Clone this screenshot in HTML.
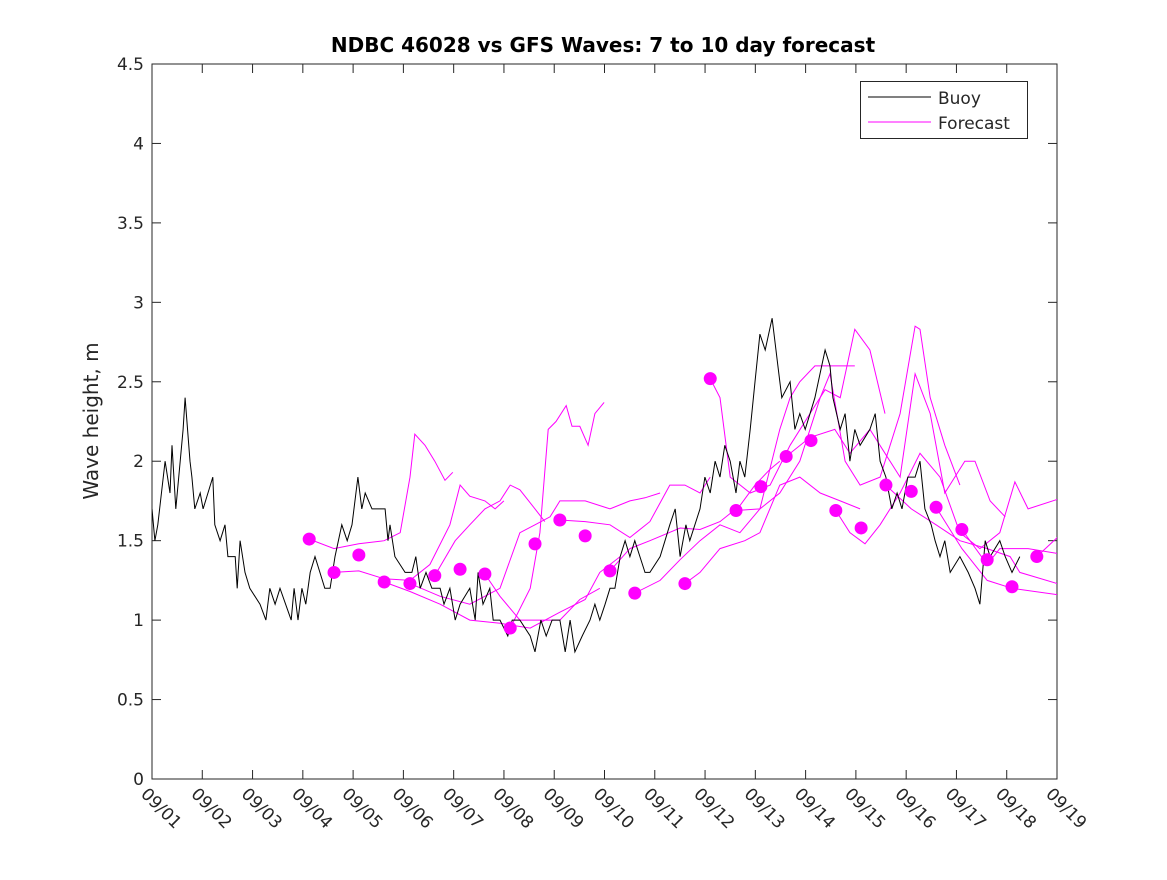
<!DOCTYPE html>
<html><head><meta charset="utf-8"><style>
body{margin:0;background:#fff;font-family:"Liberation Sans","DejaVu Sans",sans-serif}
svg text{font-family:"DejaVu Sans","Liberation Sans",sans-serif}
</style></head><body>
<svg id="c" width="1167" height="875" xmlns="http://www.w3.org/2000/svg">
<rect width="1167" height="875" fill="#fff"/>
<text x="603" y="52" text-anchor="middle" font-size="20" font-weight="bold" fill="#000">NDBC 46028 vs GFS Waves: 7 to 10 day forecast</text>
<text transform="translate(98,421) rotate(-90)" text-anchor="middle" font-size="20" fill="#262626">Wave height, m</text>
<g id="axes"></g><g id="marks"></g>
<g>
<rect x="860.5" y="81.5" width="167" height="57" fill="#fff" stroke="#262626" stroke-width="1"/>
<line x1="868" y1="97" x2="931" y2="97" stroke="#000" stroke-width="1"/>
<text x="938" y="104" font-size="17" fill="#262626">Buoy</text>
<line x1="868" y1="122" x2="931" y2="122" stroke="#f0f" stroke-width="1"/>
<text x="938" y="129" font-size="17" fill="#262626">Forecast</text>
</g>
</svg>
<script>
const yTicks=[0,0.5,1,1.5,2,2.5,3,3.5,4,4.5];
const xTickLabels=["09/01","09/02","09/03","09/04","09/05","09/06","09/07","09/08","09/09","09/10","09/11","09/12","09/13","09/14","09/15","09/16","09/17","09/18","09/19"];
const buoyDay=[0,.06,.12,.27,.37,.41,.49,.58,.64,.68,.78,.82,.88,.99,1.05,1.25,1.29,1.40,1.50,1.56,1.71,1.75,1.81,1.91,2.01,2.22,2.34,2.42,2.53,2.63,2.86,2.92,3.00,3.08,3.16,3.25,3.35,3.45,3.55,3.66,3.76,3.90,4.01,4.11,4.23,4.31,4.38,4.52,4.68,4.79,4.85,4.89,4.99,5.20,5.34,5.42,5.51,5.63,5.75,5.92,6.00,6.12,6.23,6.33,6.53,6.64,6.70,6.80,6.94,7.01,7.15,7.31,7.40,7.56,7.77,7.87,7.99,8.10,8.22,8.38,8.49,8.59,8.69,8.84,9.00,9.10,9.20,9.31,9.41,9.51,9.62,9.72,9.82,9.92,10.13,10.23,10.44,10.54,10.64,10.75,10.85,10.97,11.05,11.26,11.36,11.47,11.57,11.67,11.77,11.88,12.00,12.08,12.18,12.29,12.39,12.49,12.60,12.74,12.86,12.94,13.11,13.21,13.31,13.42,13.62,13.83,13.93,13.99,14.14,14.24,14.34,14.44,14.55,14.75,14.86,14.96,15.08,15.20,15.31,15.41,15.53,15.68,15.78,15.88,16.01,16.09,16.19,16.29,16.40,16.60,16.77,16.91,17.01,17.12,17.22,17.42,17.53,17.67,17.83];
const buoyVal=[1.7,1.5,1.6,2.0,1.8,2.1,1.7,2.0,2.2,2.4,2.0,1.9,1.7,1.8,1.7,1.9,1.6,1.5,1.6,1.4,1.4,1.2,1.5,1.3,1.2,1.1,1.0,1.2,1.1,1.2,1.0,1.2,1.0,1.2,1.1,1.3,1.4,1.3,1.2,1.2,1.4,1.6,1.5,1.6,1.9,1.7,1.8,1.7,1.7,1.7,1.5,1.6,1.4,1.3,1.3,1.4,1.2,1.3,1.2,1.2,1.1,1.2,1.0,1.1,1.2,1.0,1.3,1.1,1.2,1.0,1.0,0.9,1.0,1.0,0.9,0.8,1.0,0.9,1.0,1.0,0.8,1.0,0.8,0.9,1.0,1.1,1.0,1.1,1.2,1.2,1.4,1.5,1.4,1.5,1.3,1.3,1.4,1.5,1.6,1.7,1.4,1.6,1.5,1.7,1.9,1.8,2.0,1.9,2.1,2.0,1.8,2.0,1.9,2.2,2.5,2.8,2.7,2.9,2.6,2.4,2.5,2.2,2.3,2.2,2.4,2.7,2.6,2.4,2.2,2.3,2.0,2.2,2.1,2.2,2.3,2.0,1.9,1.7,1.8,1.7,1.9,1.9,2.0,1.7,1.6,1.5,1.4,1.5,1.3,1.4,1.3,1.2,1.1,1.5,1.4,1.5,1.4,1.3,1.4];
const dotDay=[3.23,3.74,4.25,4.77,5.30,5.81,6.33,6.84,7.36,7.87,8.38,8.90,9.41,9.92,10.95,11.47,12.00,12.51,13.03,13.54,14.05,14.57,15.08,15.60,16.11,16.64,17.16,17.67,18.18];
const dotVal=[1.51,1.30,1.41,1.24,1.23,1.28,1.32,1.29,0.95,1.48,1.63,1.53,1.31,1.17,1.23,2.52,1.69,1.84,2.03,2.13,1.69,1.58,1.85,1.81,1.71,1.57,1.38,1.21,1.40];
const fcDays=[
[3.23,3.74,4.25,4.77,5.10,5.30,5.40,5.61,5.81,6.02,6.18],
[3.74,4.25,4.77,5.30,5.71,6.12,6.33,6.53,6.84,7.05,7.23],
[4.77,5.30,5.92,6.53,7.15,7.77,8.38,8.90,9.20,9.62],
[5.30,5.92,6.53,7.15,7.56,7.87,8.18,8.38,8.90,9.41,9.82,10.13,10.44],
[5.81,6.23,6.53,6.84,7.15,7.36,7.56,7.87,8.07],
[6.84,7.15,7.56,7.97,8.38,8.79,9.20],
[7.36,7.77,7.97,8.14,8.30,8.51,8.63,8.79,8.96,9.10,9.29],
[8.38,8.90,9.41,9.82,10.23,10.64,10.95,11.26,11.47],
[9.41,9.82,10.23,10.85,11.26,11.67,12.08,12.39,12.70,12.90],
[9.92,10.44,10.85,11.26,11.67,12.08,12.49,12.90,13.11,13.31,13.62,13.93,14.44],
[10.95,11.26,11.67,12.18,12.49,12.90,13.31,13.73,14.14,14.55],
[11.47,11.67,11.88,12.29,12.70,13.11,13.52,13.83,14.14,14.44,14.75,15.06],
[12.00,12.49,12.90,13.31,13.73,13.93,14.24,14.55,14.96,15.37,15.68,15.78,15.99,16.29,16.60],
[13.03,13.52,14.03,14.34,14.75,15.06,15.37,15.68,15.99,16.29,16.70,16.91,17.22,17.53],
[14.05,14.34,14.65,14.96,15.37,15.78,16.19,16.60,17.01,17.42,17.73,18.0,18.6],
[15.08,15.60,16.11,16.60,17.16,17.63,17.83,18.6],
[16.11,16.64,17.16,17.67,18.6],
[16.64,17.16,17.42,18.0,18.6],
[18.18,18.6]];
const fcVals=[
[1.51,1.45,1.48,1.50,1.55,1.90,2.17,2.10,2.00,1.88,1.93],
[1.30,1.31,1.26,1.25,1.35,1.60,1.85,1.78,1.75,1.70,1.75],
[1.24,1.18,1.10,1.00,0.98,0.95,1.05,1.13,1.30,1.40],
[1.23,1.15,1.10,1.20,1.55,1.60,1.65,1.75,1.75,1.70,1.75,1.77,1.80],
[1.28,1.50,1.60,1.70,1.75,1.85,1.82,1.70,1.62],
[1.29,1.15,1.00,1.00,1.00,1.13,1.20],
[0.95,1.20,1.55,2.20,2.25,2.35,2.22,2.22,2.10,2.30,2.37],
[1.63,1.62,1.60,1.52,1.62,1.85,1.85,1.80,1.90],
[1.31,1.45,1.50,1.58,1.57,1.62,1.72,1.85,1.95,2.00],
[1.17,1.25,1.38,1.50,1.60,1.55,1.70,2.20,2.40,2.50,2.60,2.60,2.60],
[1.23,1.30,1.45,1.50,1.55,1.85,1.90,1.80,1.75,1.70],
[2.52,2.40,1.90,1.80,1.85,2.10,2.30,2.45,2.40,2.83,2.70,2.30],
[1.69,1.70,1.80,2.00,2.40,2.55,2.00,1.85,1.90,2.30,2.85,2.83,2.40,2.10,1.85],
[2.03,2.15,2.20,2.05,2.20,2.05,1.90,2.55,2.30,1.80,2.00,2.00,1.75,1.65],
[1.69,1.55,1.48,1.60,1.80,2.05,1.90,1.55,1.45,1.55,1.87,1.70,1.76],
[1.85,1.70,1.60,1.50,1.45,1.40,1.30,1.23],
[1.71,1.45,1.25,1.20,1.16],
[1.57,1.35,1.45,1.45,1.42],
[1.40,1.52]];
const L=152,R=1057,T=64,B=779,NS="http://www.w3.org/2000/svg";
const PX_PER_UNIT=48.67, TICK_STEP=(R-L)/18;
const xs=d=>L+d*PX_PER_UNIT, ys=v=>B-v*(B-T)/4.5;
function mk(tag,attrs,parent){const e=document.createElementNS(NS,tag);for(const k in attrs)e.setAttribute(k,attrs[k]);parent.appendChild(e);return e;}
const ax=document.getElementById('axes'),mg=document.getElementById('marks');
yTicks.forEach(v=>{const y=ys(v);
mk('line',{x1:L,y1:y,x2:L+9,y2:y,stroke:'#262626'},ax);mk('line',{x1:R,y1:y,x2:R-9,y2:y,stroke:'#262626'},ax);
const t=mk('text',{x:L-8,y:y+6,'text-anchor':'end','font-size':17,fill:'#262626'},ax);t.textContent=v;

});
xTickLabels.forEach((s,i)=>{const x=L+i*TICK_STEP;
mk('line',{x1:x,y1:B,x2:x,y2:B-9,stroke:'#262626'},ax);mk('line',{x1:x,y1:T,x2:x,y2:T+9,stroke:'#262626'},ax);
const t=mk('text',{transform:`translate(${x-12},${B+16}) rotate(45)`,'font-size':17,fill:'#262626'},ax);t.textContent=s;

});
const fr=mk('rect',{x:L,y:T,width:R-L,height:B-T,fill:'none',stroke:'#262626'},ax);


const clip=mk('clipPath',{id:'cp'},mg);mk('rect',{x:L,y:T,width:R-L,height:B-T},clip);
const dg=mk('g',{'clip-path':'url(#cp)'},mg);
fcDays.forEach((ds,i)=>{const p=ds.map((d,j)=>xs(d).toFixed(1)+','+ys(fcVals[i][j]).toFixed(1)).join(' ');
const e=mk('polyline',{points:p,fill:'none',stroke:'#f0f','stroke-width':1},dg);

});
const bp=buoyDay.map((d,j)=>xs(d).toFixed(1)+','+ys(buoyVal[j]).toFixed(1)).join(' ');
const bl=mk('polyline',{points:bp,fill:'none',stroke:'#000','stroke-width':1},dg);


dotDay.forEach((d,i)=>{const c=mk('circle',{cx:xs(d),cy:ys(dotVal[i]),r:6.5,fill:'#f0f'},dg);

});
</script>
</body></html>
